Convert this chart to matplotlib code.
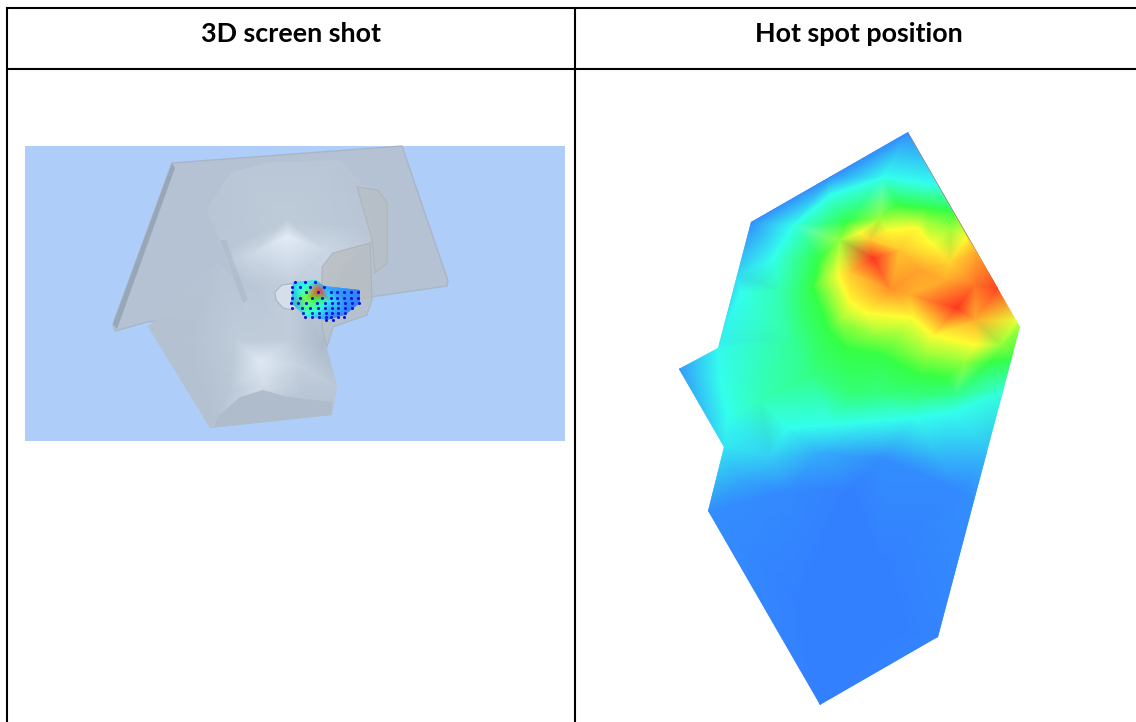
# table with 3D view and hot spot map
import numpy as np
import matplotlib
matplotlib.use('Agg')
import matplotlib.pyplot as plt
import matplotlib.tri as mtri
from matplotlib.colors import LinearSegmentedColormap
from matplotlib.patches import Polygon, Rectangle

# headers
headers = ['3D screen shot', 'Hot spot position']

# hot spot outline (px)
hot_outline_x = [908, 1020, 938, 820, 708, 724, 679, 718, 751]
hot_outline_y = [132, 327, 637, 705, 511, 447, 369, 348, 222]

# hot spot readings: x, y, level 0-1, grouped by what the colour is
# outline and edge points
edge_x = [908, 1020, 938, 820, 708, 724, 679, 718, 751, 830, 938, 953, 967, 975, 998, 1017, 1012, 1003, 987, 974, 737, 720]
edge_y = [132, 327, 637, 705, 511, 447, 369, 348, 222, 177, 185, 212, 237, 252, 288, 320, 358, 392, 453, 500, 275, 342]
edge_v = [.02, .62, .01, .0, .03, .20, .05, .24, .03, .03, .25, .50, .75, .85, .98, .72, .50, .28, .12, .03, .17, .22]
# cyan band
cyan_x = [740, 773, 793, 830, 883, 727, 787, 830, 870, 915, 953, 720]
cyan_y = [292, 258, 225, 195, 177, 418, 428, 425, 422, 418, 412, 380]
# green band
green_x = [813, 820, 847, 897, 925, 830, 847, 883, 920, 947, 990]
green_y = [288, 258, 222, 205, 208, 332, 348, 355, 375, 378, 362]
# yellow-green ring
lime_x = [825, 840, 880, 925, 950, 840, 875, 925, 965, 1000]
lime_y = [275, 240, 218, 220, 228, 320, 335, 355, 362, 345]
# yellow band
yellow_x = [838, 860, 888, 917, 933, 850, 867, 913, 933, 977]
yellow_y = [275, 233, 230, 228, 245, 302, 313, 318, 335, 345]
# peaks and orange part
peak_x = [873, 957, 920, 910, 890, 945, 900, 975, 975, 950, 905, 870, 850]
peak_y = [258, 308, 270, 295, 290, 280, 250, 320, 285, 262, 240, 240, 272]
peak_v = [1.0, 1.0, .86, .85, .88, .85, .82, .85, .92, .80, .79, .82, .82]
# teal middle
teal_x = [790, 760, 850, 880, 780, 810, 915, 955]
teal_y = [340, 400, 395, 395, 290, 375, 398, 395]
teal_v = [.37, .33, .42, .41, .34, .40, .40, .39]
# blue lower part
low_x = [770, 820, 883, 937, 740, 790, 850, 960, 880, 800, 900, 850]
low_y = [458, 452, 458, 458, 480, 490, 490, 490, 560, 600, 630, 660]
low_v = [.15, .09, .03, .10, .08, .02, .0, .02, .0, .0, .0, .0]

# small patch in the 3D view
patch_outline_x = [293, 316, 324, 360, 360, 345, 327, 305, 291]
patch_outline_y = [282, 280, 286, 290, 303, 315, 320, 316, 303]
patch_x = [293, 316, 324, 360, 360, 345, 327, 305, 291, 306, 319, 315, 300, 330, 345, 318, 308]
patch_y = [282, 280, 286, 290, 303, 315, 320, 316, 303, 299, 291, 300, 291, 300, 300, 310, 285]
patch_v = [.15, .20, .10, .0, .0, .0, .0, .28, .05, .58, 1.0, .50, .30, .20, .03, .28, .28]

# sensor dots in the 3D view, row by row
dot_rows_y = [282, 287, 292, 298, 303, 308, 313, 317, 320]
dot_rows_x = [[295, 305, 315],
              [292, 300, 310, 324],
              [292, 306, 318, 331, 337, 344, 351, 358],
              [292, 300, 312, 322, 331, 337, 344, 351, 358],
              [291, 298, 306, 317, 325, 332, 338, 345, 352, 359],
              [292, 302, 310, 318, 325, 332, 338, 345, 352],
              [303, 312, 319, 326, 332, 338, 345],
              [305, 312, 319, 326, 331, 338, 344],
              [326, 333]]

# plate outline and its side face
plate_x = [172, 402, 448, 447, 370, 147, 115, 113]
plate_y = [163, 146, 281, 286, 297, 322, 331, 324]
side_x = [172, 175, 117, 113]
side_y = [163, 168, 329, 324]

# body outline and shading nodes
body_out_x = [207, 212, 232, 270, 340, 358, 368, 372, 345, 325, 322, 326, 333, 337, 332, 210, 148, 217, 232, 243]
body_out_y = [210, 192, 172, 162, 160, 172, 190, 240, 266, 300, 330, 345, 370, 387, 415, 428, 327, 263, 275, 303]
body_x = [207, 232, 270, 340, 368, 372, 233, 287, 353, 287, 250, 325, 250, 290, 325, 148, 190, 217, 260, 235, 290, 300, 322, 337, 332, 210, 263, 230, 300]
body_y = [210, 172, 162, 160, 190, 240, 247, 220, 226, 236, 255, 250, 285, 285, 275, 327, 340, 263, 362, 340, 340, 365, 345, 387, 415, 428, 385, 390, 392]
body_s = [.48, .50, .50, .48, .45, .50, .50, .55, .50, 1.0, .72, .72, .50, .60, .62, .40, .42, .45, .95, .55, .58, .62, .28, .50, .40, .40, .80, .50, .50]

# darker part under the arch
arch_x = [214, 217, 240, 263, 287, 332, 332, 210]
arch_y = [427, 417, 397, 390, 397, 402, 415, 428]
# dark crease along the cup
crease_x = [220, 226, 248, 243]
crease_y = [240, 240, 300, 303]
# translucent strap and flange
strap_x = [322, 333, 370, 372, 367, 333, 327, 322]
strap_y = [267, 253, 243, 300, 315, 327, 347, 327]
flange_x = [357, 378, 387, 387, 375, 372]
flange_y = [187, 190, 203, 263, 273, 240]
tab_x = [275, 282, 297, 300, 292, 283, 276]
tab_y = [292, 285, 283, 306, 310, 308, 300]

hot_cmap = LinearSegmentedColormap.from_list(
    'hot_spot', ['#3380ff', '#33ffee', '#33ff44', '#ffff33', '#ff3322'])
gray_cmap = LinearSegmentedColormap.from_list('body', ['#9dabbd', '#bac7d6', '#e3ecf7'])

plt.rcParams['font.family'] = ['Lato', 'DejaVu Sans']

fig = plt.figure(figsize=(11.36, 7.22), dpi=100)
ax = fig.add_axes([0, 0, 1, 1])
ax.set_xlim(0, 1136)
ax.set_ylim(722, 0)
ax.axis('off')


def shaded(x, y, v, out_x, out_y, cmap, zorder):
    # smooth colour mesh cut to an outline
    clip = Polygon(np.column_stack([out_x, out_y]), closed=True, transform=ax.transData)
    tri = mtri.Triangulation(np.array(x, float), np.array(y, float))
    m = ax.tripcolor(tri, np.array(v, float), shading='gouraud', cmap=cmap, vmin=0, vmax=1, zorder=zorder)
    m.set_clip_path(clip)
    return m


def flat(x, y, zorder, **kw):
    ax.add_patch(Polygon(np.column_stack([x, y]), closed=True, zorder=zorder, **kw))


# left picture
ax.add_patch(Rectangle((25, 146), 540, 295, fc='#aecdf9', ec='none', zorder=1))
flat(plate_x, plate_y, 2, fc='#b5c2d3', ec='#a9b6c6', lw=1)
flat(side_x, side_y, 3, fc='#98a7b8', ec='none')
shaded(body_x, body_y, body_s, body_out_x, body_out_y, gray_cmap, 4)
flat(arch_x, arch_y, 5, fc='#aebccc', ec='none')
flat(crease_x, crease_y, 5, fc='#a3afbe', ec='none', alpha=0.35)
flat(flange_x, flange_y, 5, fc='#b7bdc3', ec='#a9b0b6', lw=0.8, alpha=0.7)
flat(strap_x, strap_y, 5, fc='#b9bdc0', ec='#a8aeb3', lw=0.8, alpha=0.75)
flat(tab_x, tab_y, 5, fc='#d5dee9', ec='#aab6c4', lw=0.8)
shaded(patch_x, patch_y, patch_v, patch_outline_x, patch_outline_y, hot_cmap, 6)
for row_y, row_x in zip(dot_rows_y, dot_rows_x):
    ax.scatter(row_x, [row_y] * len(row_x), s=5, color='#0a18d8', linewidths=0, zorder=7)

# right picture
hot_x = edge_x + cyan_x + green_x + lime_x + yellow_x + peak_x + teal_x + low_x
hot_y = edge_y + cyan_y + green_y + lime_y + yellow_y + peak_y + teal_y + low_y
hot_v = (edge_v + [.25] * len(cyan_x) + [.5] * len(green_x) + [.62] * len(lime_x)
         + [.75] * len(yellow_x) + peak_v + teal_v + low_v)
shaded(hot_x, hot_y, hot_v, hot_outline_x, hot_outline_y, hot_cmap, 2)

# table lines
ax.plot([5.5, 1136], [7.5, 7.5], color='black', lw=1.5, zorder=10, solid_capstyle='butt')
ax.plot([5.5, 1136], [69, 69], color='black', lw=1.5, zorder=10, solid_capstyle='butt')
ax.plot([6.5, 6.5], [7, 722], color='black', lw=1.5, zorder=10, solid_capstyle='butt')
ax.plot([575, 575], [7, 722], color='black', lw=1.5, zorder=10, solid_capstyle='butt')

# header text
ax.text(291, 34, headers[0], ha='center', va='center', fontsize=19.4, fontweight='bold', zorder=11)
ax.text(859, 34, headers[1], ha='center', va='center', fontsize=19.4, fontweight='bold', zorder=11)

fig.savefig('out.png', dpi=100)
